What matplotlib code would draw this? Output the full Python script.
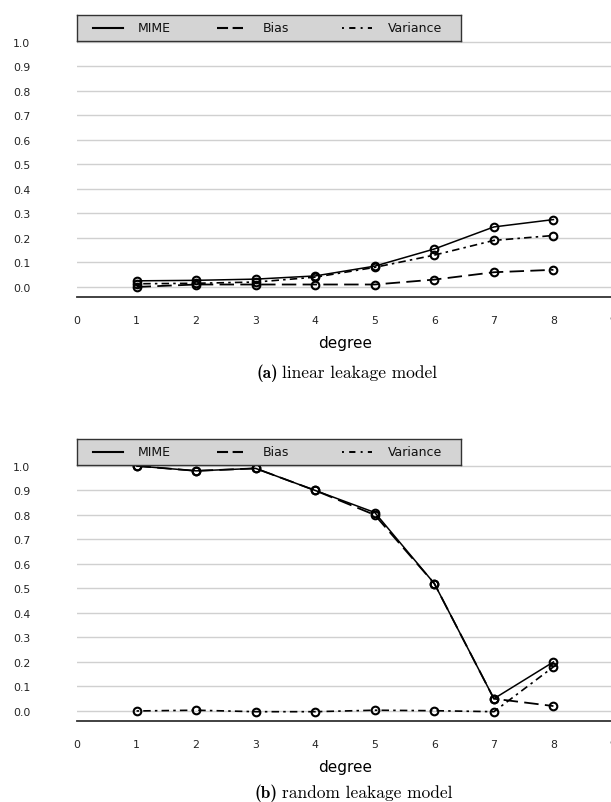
import matplotlib
matplotlib.use("Agg")
import matplotlib.pyplot as plt
from matplotlib.lines import Line2D

degree = [1, 2, 3, 4, 5, 6, 7, 8]

# (a) linear leakage model
lin_mime = [0.025, 0.027, 0.032, 0.045, 0.085, 0.155, 0.245, 0.275]
lin_bias = [0.0, 0.01, 0.01, 0.01, 0.01, 0.03, 0.06, 0.07]
lin_var = [0.013, 0.015, 0.02, 0.04, 0.08, 0.13, 0.19, 0.21]

# (b) random leakage model
rnd_mime = [1.0, 0.98, 0.99, 0.90, 0.81, 0.52, 0.05, 0.20]
rnd_bias = [1.0, 0.98, 0.99, 0.90, 0.80, 0.52, 0.05, 0.02]
rnd_var = [0.0, 0.003, -0.003, -0.003, 0.003, 0.001, -0.003, 0.18]

series_names = ['MIME', 'Bias', 'Variance']
x_ticks = list(range(0, 10))
y_ticks = [i / 10 for i in range(0, 11)]

plt.rcParams['font.family'] = ['DejaVu Sans']

fig = plt.figure(figsize=(6.11, 8.03), dpi=100)
W, H = 611, 803
PT = 72 / 100  # points per pixel

styles = [
    dict(linestyle='-', linewidth=1.1),
    dict(linestyle=(0, (8, 3.5)), linewidth=1.3),
    dict(linestyle=(0, (1.5, 2.5, 4.5, 2.5)), linewidth=1.2),
]
legend_styles = [
    dict(linestyle='-', linewidth=1.5),
    dict(linestyle=(0, (5.3, 2.2)), linewidth=1.5),
    dict(linestyle=(0, (1.0, 2.7, 3.2, 2.7)), linewidth=1.4),
]


def panel(bottom_px, mime, bias, var, tag, caption, cap_off):
    ax = fig.add_axes([77 / W, 1 - bottom_px / H, 536 / W, 257.5 / H])
    kw = dict(color='black', marker='o', markersize=5.5, markerfacecolor='none',
              markeredgewidth=1.5, clip_on=False)
    for vals, st in zip([mime, bias, var], styles):
        ax.plot(degree, vals, **st, **kw)

    ax.set_xlim(0, 9)
    ax.set_ylim(-0.041, 1.01)
    ax.set_xticks(x_ticks)
    ax.set_yticks(y_ticks)
    ax.set_yticklabels([f'{v:.1f}' for v in y_ticks])
    ax.yaxis.grid(True, color='#d0d0d0', linewidth=1.0)
    ax.set_axisbelow(True)
    for s in ['top', 'right', 'left']:
        ax.spines[s].set_visible(False)
    ax.spines['bottom'].set_color('#333333')
    ax.spines['bottom'].set_linewidth(1.3)
    ax.tick_params(axis='y', length=0, pad=64 * PT, labelsize=7.8, labelcolor='#222222')
    ax.tick_params(axis='x', length=0, pad=13, labelsize=7.8, labelcolor='#222222')
    for lab in ax.get_yticklabels():
        lab.set_horizontalalignment('left')
    ax.set_xlabel('degree', fontsize=11, labelpad=7)

    # grey legend strip above the plot, laid out in pixels
    top_px = bottom_px - 257.5
    lg = fig.add_axes([77 / W, 1 - (top_px + 1.2) / H, 384 / W, 25.7 / H])
    lg.set_xlim(0, 384)
    lg.set_ylim(0, 25.7)
    lg.set_facecolor('#d4d4d4')
    lg.set_xticks([])
    lg.set_yticks([])
    for s in lg.spines.values():
        s.set_color('#333333')
        s.set_linewidth(1.0)
    handle_x = [(16, 46), (140, 166), (265, 295)]
    text_x = [61, 186, 311]
    for (x0, x1), tx, name, st in zip(handle_x, text_x, series_names, legend_styles):
        lg.add_line(Line2D([x0, x1], [12.8, 12.8], color='black', **st))
        lg.text(tx, 12.8, name, fontsize=9, va='center', ha='left', color='#111111')

    # caption
    cy = 1 - (bottom_px + cap_off) / H
    fig.text(0.455, cy, tag, fontfamily='cmb10', fontsize=12.5, ha='right', va='center')
    fig.text(0.462, cy, caption, fontfamily='cmr10', fontsize=12.5, ha='left', va='center')
    return ax


panel(298, lin_mime, lin_bias, lin_var, '(a)', 'linear leakage model', 75)
panel(722, rnd_mime, rnd_bias, rnd_var, '(b)', 'random leakage model', 71)

fig.savefig('out.png', dpi=100)
